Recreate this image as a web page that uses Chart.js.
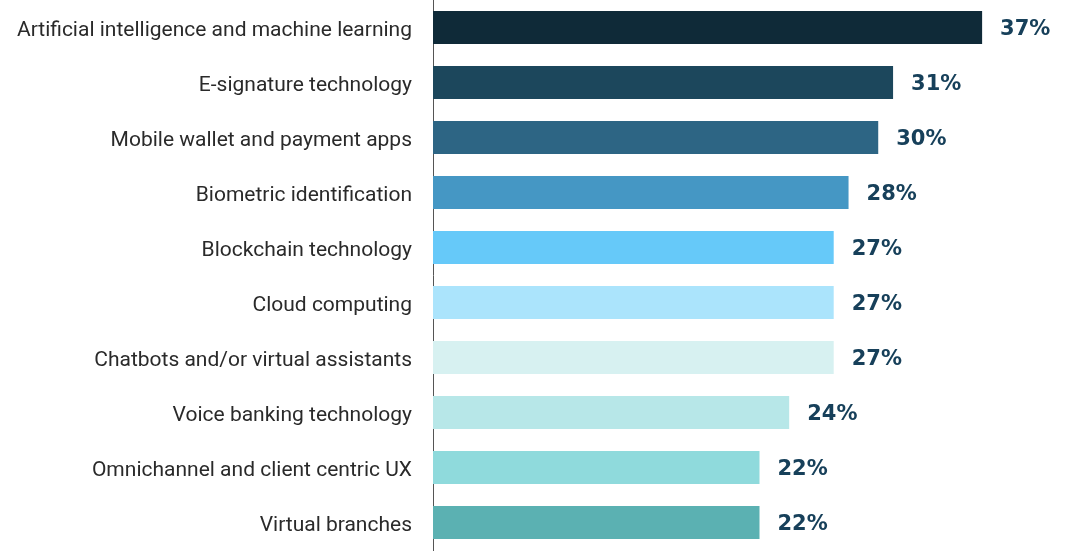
<!DOCTYPE html>
<html>
<head>
<meta charset="utf-8">
<script src="https://cdn.jsdelivr.net/npm/chart.js@4"></script>
<style>
  html, body { margin: 0; padding: 0; background: #fff; }
  #wrap { width: 1086px; height: 553px; position: relative; }
</style>
</head>
<body>
<div id="wrap"><canvas id="techChart"></canvas></div>
<script>
// Chart data
const categories = [
  "Artificial intelligence and machine learning",
  "E-signature technology",
  "Mobile wallet and payment apps",
  "Biometric identification",
  "Blockchain technology",
  "Cloud computing",
  "Chatbots and/or virtual assistants",
  "Voice banking technology",
  "Omnichannel and client centric UX",
  "Virtual branches"
];
const shares = [37, 31, 30, 28, 27, 27, 27, 24, 22, 22];
const barColors = [
  "#0f2a38", "#1c475c", "#2d6584", "#4597c4", "#66c9f9",
  "#abe4fc", "#d7f1f1", "#b7e7e8", "#8fdadc", "#5bb1b2"
];

// Draw the percentage next to each bar
const valueLabels = {
  id: "valueLabels",
  afterDatasetsDraw(chart) {
    const ctx = chart.ctx;
    const meta = chart.getDatasetMeta(0);
    ctx.save();
    ctx.font = "bold 21px 'DejaVu Sans'";
    ctx.fillStyle = "#17405a";
    ctx.textAlign = "left";
    ctx.textBaseline = "middle";
    meta.data.forEach((bar, i) => {
      ctx.fillText(shares[i] + "%", bar.x + 18, bar.y + 2);
    });
    ctx.restore();
  }
};

const ctx = document.getElementById("techChart").getContext("2d");
new Chart(ctx, {
  type: "bar",
  data: {
    labels: categories,
    datasets: [{
      data: shares,
      backgroundColor: barColors,
      categoryPercentage: 1,
      barPercentage: 0.6
    }]
  },
  options: {
    indexAxis: "y",
    responsive: true,
    maintainAspectRatio: false,
    animation: false,
    layout: { padding: { top: 0, bottom: 3, left: 0, right: 0 } },
    plugins: {
      legend: { display: false },
      tooltip: { enabled: false }
    },
    scales: {
      x: {
        display: false,
        min: 0,
        max: 44
      },
      y: {
        afterFit(scale) {
          scale.width = 433;
          scale.paddingTop = 0;
          scale.paddingBottom = 0;
        },
        grid: { display: false, drawTicks: false },
        border: { display: true, color: "#555", width: 1 },
        ticks: {
          padding: 21,
          labelOffset: 3,
          color: "#2a2a2a",
          font: { family: "Roboto", size: 21 }
        }
      }
    }
  },
  plugins: [valueLabels]
});
</script>
</body>
</html>
